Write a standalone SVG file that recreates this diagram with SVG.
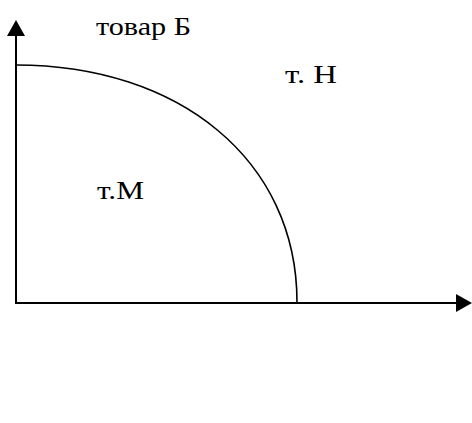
<svg xmlns="http://www.w3.org/2000/svg" width="472" height="423" viewBox="0 0 472 423">
  <style>
    .axis { stroke: #000; stroke-width: 2; fill: none; }
    .curve { stroke: #000; stroke-width: 1.6; fill: none; }
    .lbl { font-family: "Liberation Serif", "Times New Roman", serif; font-size: 25px; fill: #000; }
  </style>
  <defs>
    <marker id="arrow" markerUnits="userSpaceOnUse" markerWidth="16" markerHeight="18" refX="0" refY="9" orient="auto" viewBox="0 0 16 18">
      <path d="M0,0 L16,9 L0,18 Z" fill="#000"/>
    </marker>
  </defs>
  <rect width="472" height="423" fill="#fff"/>
  <g id="connectors">
    <line class="axis" x1="16" y1="303" x2="16" y2="36" marker-end="url(#arrow)"/>
    <line class="axis" x1="15" y1="303" x2="456" y2="303" marker-end="url(#arrow)"/>
    <path id="curve" class="curve" d="M16,65 C179,65 297,160 297,302"/>
  </g>
  <g id="label-b"><text class="lbl" x="96" y="35" font-size="27" textLength="95" lengthAdjust="spacingAndGlyphs">товар Б</text></g>
  <g id="label-n"><text class="lbl" x="285" y="83" textLength="52" lengthAdjust="spacingAndGlyphs">т. Н</text></g>
  <g id="label-m"><text class="lbl" x="97" y="199" textLength="47" lengthAdjust="spacingAndGlyphs">т.М</text></g>
</svg>
